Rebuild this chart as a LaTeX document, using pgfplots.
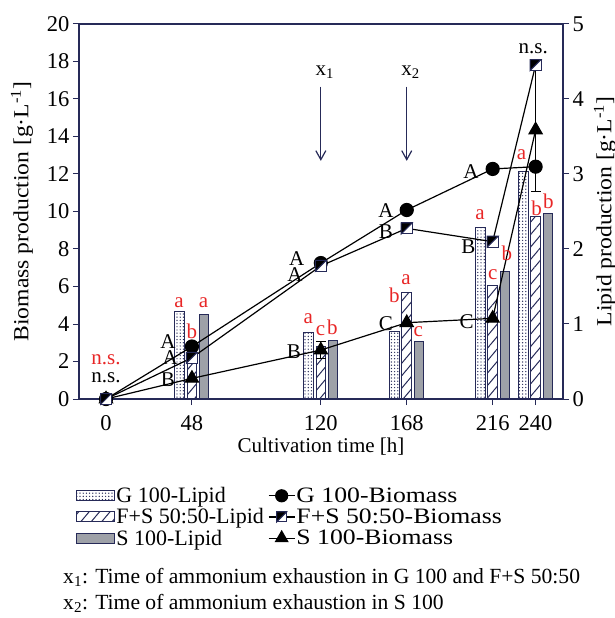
\documentclass[border=0pt]{standalone}
\usepackage{fontspec}
\setmainfont{Liberation Serif}
\newfontfamily\ylabfont{Liberation Serif}[FakeStretch=1.1]
\newfontfamily\wideleg{Liberation Serif}[FakeStretch=1.17]
\usepackage{pgfplots}
\pgfplotsset{compat=1.18}
\usetikzlibrary{patterns,patterns.meta,arrows.meta}
\definecolor{axiscol}{RGB}{38,42,88}
\definecolor{lred}{RGB}{232,38,38}
\definecolor{bargray}{RGB}{158,161,168}

\pgfdeclareplotmark{halfsq}{%
  \pgfpathrectangle{\pgfpoint{-\pgfplotmarksize}{-\pgfplotmarksize}}{\pgfpoint{2\pgfplotmarksize}{2\pgfplotmarksize}}%
  \pgfsetfillcolor{white}\pgfusepathqfillstroke
  \pgfpathmoveto{\pgfpoint{-\pgfplotmarksize}{-\pgfplotmarksize}}%
  \pgfpathlineto{\pgfpoint{-\pgfplotmarksize}{\pgfplotmarksize}}%
  \pgfpathlineto{\pgfpoint{\pgfplotmarksize}{\pgfplotmarksize}}%
  \pgfpathclose
  \pgfsetfillcolor{black}\pgfusepathqfillstroke}

\pgfplotsset{
  common/.style={
    scale only axis, width=484pt, height=375pt,
    at={(0pt,0pt)}, anchor=south west,
    xmin=-15.1, xmax=255.3,
    tick align=outside, major tick length=6pt,
    tick style={draw=axiscol, line width=1pt},
    axis line style={draw=axiscol, line width=1.2pt},
    /pgf/number format/assume math mode=true,
    ticklabel style={font=\fontsize{22.5}{26}\selectfont},
    xticklabel style={yshift=-7pt},
    xlabel style={font=\fontsize{21}{25}\selectfont},
    ylabel style={font=\fontsize{21.5}{25}\ylabfont},
  },
  gbar/.style={ybar, bar width=9.5pt, bar shift=-12.3pt, draw=axiscol, line width=1pt, fill=white,
    postaction={pattern color=axiscol, pattern={Dots[distance=3.2pt, radius=0.7pt, xshift=1pt]}}},
  fbar/.style={ybar, bar width=9.5pt, bar shift=0pt, draw=axiscol, line width=1pt, fill=white,
    postaction={pattern color=axiscol, pattern={Lines[angle=50, distance=8pt, line width=1pt]}}},
  sbar/.style={ybar, bar width=9.5pt, bar shift=12.3pt, draw=axiscol, line width=1pt, fill=bargray},
  lineleg/.style={legend image code/.code={\draw[mark repeat=2,mark phase=2,#1] plot coordinates {(0pt,0pt) (13pt,0pt) (26pt,0pt)};}},
  gleg/.style={legend image code/.code={\draw[draw=axiscol,line width=1pt,fill=white,postaction={pattern color=axiscol,pattern={Dots[distance=3.2pt,radius=0.7pt]}}] (0pt,-5pt) rectangle (38pt,5pt);}},
  fleg/.style={legend image code/.code={\draw[draw=axiscol,line width=1pt,fill=white,postaction={pattern color=axiscol,pattern={Lines[angle=50,distance=8pt,line width=1pt]}}] (0pt,-5pt) rectangle (38pt,5pt);}},
  sleg/.style={legend image code/.code={\draw[draw=axiscol,line width=1pt,fill=bargray] (0pt,-5pt) rectangle (38pt,5pt);}},
}

\begin{document}
\begin{tikzpicture}[font=\fontsize{21}{25}\selectfont]
\useasboundingbox (-79pt,-219pt) rectangle (536pt,399pt);

% ---------- lipid axis (bars) ----------
\begin{axis}[common,
  ymin=0, ymax=5, ytick={0,1,2,3,4,5},
  hide x axis, axis y line*=right, ytick pos=right,
  ylabel={Lipid production [g·L\textsuperscript{-1}]},
  ylabel style={at={(axis description cs:1.0868,0.5)}, anchor=center},
]
\addplot[gbar] coordinates {(48,1.16) (120,0.89) (168,0.90) (216,2.29) (240,3.03)};
\addplot[fbar] coordinates {(48,0.76) (120,0.70) (168,1.42) (216,1.51) (240,2.43)};
\addplot[sbar] coordinates {(48,1.13) (120,0.78) (168,0.76) (216,1.70) (240,2.47)};
\end{axis}

% ---------- biomass axis (lines) ----------
\begin{axis}[common, name=bio,
  ymin=0, ymax=20, ytick={0,2,...,20},
  xtick={0,48,120,168,216,240},
  xtick pos=left, ytick pos=left,
  xlabel={Cultivation time [h]},
  ylabel={Biomass production [g·L\textsuperscript{-1}]},
  xlabel style={at={(axis description cs:0.5,-0.127)}, anchor=center},
  ylabel style={at={(axis description cs:-0.1178,0.5)}, anchor=center},
  legend columns=2,
  legend cell align=left,
  legend style={at={(axis description cs:-0.0124,-0.2267)}, anchor=north west,
    draw=none, fill=none, font=\fontsize{22}{25}\selectfont,
    nodes={inner sep=1.2pt}, row sep=2pt,
    /tikz/every even column/.append style={column sep=3pt}},
]
% arrows
\addplot[axiscol, line width=1.2pt, -{Straight Barb[length=9pt,width=10pt,line width=1.2pt]}, forget plot] coordinates {(120,16.66) (120,12.7)};
\addplot[axiscol, line width=1.2pt, -{Straight Barb[length=9pt,width=10pt,line width=1.2pt]}, forget plot] coordinates {(168,16.66) (168,12.7)};
\node at (axis cs:120,17.41) {\phantom{\textsubscript{1}}x\textsubscript{1}};
\node at (axis cs:168,17.41) {\phantom{\textsubscript{2}}x\textsubscript{2}};

% error bars of S 100
\addplot[only marks, mark=none, forget plot,
  error bars/.cd, y dir=both, y explicit,
  error bar style={black, line width=1pt},
  error mark options={rotate=90, mark size=5pt, black, line width=1pt}]
  coordinates {(120,2.61) +- (0,0.45) (240,14.35) +- (0,3.3)};

% series
\addplot[black, line width=1.2pt, mark=triangle*, mark size=7.5pt, forget plot]
  coordinates {(0,0) (48,1.1) (120,2.61) (168,4.07) (216,4.3) (240,14.35)};
\addplot[black, line width=1.2pt, mark=*, mark size=6.5pt, forget plot]
  coordinates {(0,0) (48,2.8) (120,7.25) (168,10.08) (216,12.27) (240,12.39)};
\addplot[black, line width=1.2pt, mark=halfsq, mark size=5.5pt, mark options={draw=axiscol, line width=1pt}, forget plot]
  coordinates {(0,0) (48,2.2) (120,7.1) (168,9.1) (216,8.39) (240,17.81)};

% legend
\addlegendimage{gleg}
\addlegendentry{G 100-Lipid}
\addlegendimage{black, line width=1.2pt, mark=*, mark size=6pt, lineleg}
\addlegendentry{\wideleg G 100-Biomass}
\addlegendimage{fleg}
\addlegendentry{F+S 50:50-Lipid}
\addlegendimage{black, line width=1.2pt, mark=halfsq, mark size=5pt, mark options={draw=axiscol, line width=1pt}, lineleg}
\addlegendentry{\wideleg F+S 50:50-Biomass}
\addlegendimage{sleg}
\addlegendentry{S 100-Lipid}
\addlegendimage{black, line width=1.2pt, mark=triangle*, mark size=7pt, lineleg}
\addlegendentry{\wideleg S 100-Biomass}

% red letters (lipid)
\begin{scope}[every node/.style={text=lred, inner sep=0pt}]
\node at (axis cs:40.8,5.12) {a};
\node at (axis cs:47.9,3.59) {b};
\node at (axis cs:54.5,5.12) {a};
\node at (axis cs:113.0,4.30) {a};
\node at (axis cs:119.9,3.63) {c};
\node at (axis cs:126.4,3.84) {b};
\node at (axis cs:161.1,5.55) {b};
\node at (axis cs:167.6,6.35) {a};
\node at (axis cs:174.5,3.59) {c};
\node at (axis cs:208.9,9.81) {a};
\node at (axis cs:216.0,6.61) {c};
\node at (axis cs:223.9,7.77) {b};
\node at (axis cs:232.2,13.01) {a};
\node at (axis cs:240.6,10.17) {b};
\node at (axis cs:247.1,10.56) {b};
\node at (axis cs:0,2.08) {n.s.};
\end{scope}
% black letters (biomass)
\begin{scope}[every node/.style={text=black, inner sep=0pt}]
\node at (axis cs:0,1.12) {n.s.};
\node at (axis cs:34.6,3.06) {A};
\node at (axis cs:35.8,2.19) {A};
\node at (axis cs:34.6,1.01) {B};
\node at (axis cs:106.5,7.50) {A};
\node at (axis cs:105.6,6.61) {A};
\node at (axis cs:105.0,2.52) {B};
\node at (axis cs:156.4,10.04) {A};
\node at (axis cs:156.4,8.92) {B};
\node at (axis cs:156.4,4.04) {C};
\node at (axis cs:203.9,12.12) {A};
\node at (axis cs:202.4,8.12) {B};
\node at (axis cs:201.5,4.12) {C};
\node at (axis cs:238.7,18.70) {n.s.};
\end{scope}
\end{axis}

\node[anchor=west, inner sep=0pt, font=\fontsize{21.6}{25}\selectfont] at ([xshift=-16pt,yshift=-178pt]bio.south west) {x\textsubscript{1}: Time of ammonium exhaustion in G 100 and F+S 50:50};
\node[anchor=west, inner sep=0pt, font=\fontsize{21.6}{25}\selectfont] at ([xshift=-16pt,yshift=-204pt]bio.south west) {x\textsubscript{2}: Time of ammonium exhaustion in S 100};
\end{tikzpicture}
\end{document}
